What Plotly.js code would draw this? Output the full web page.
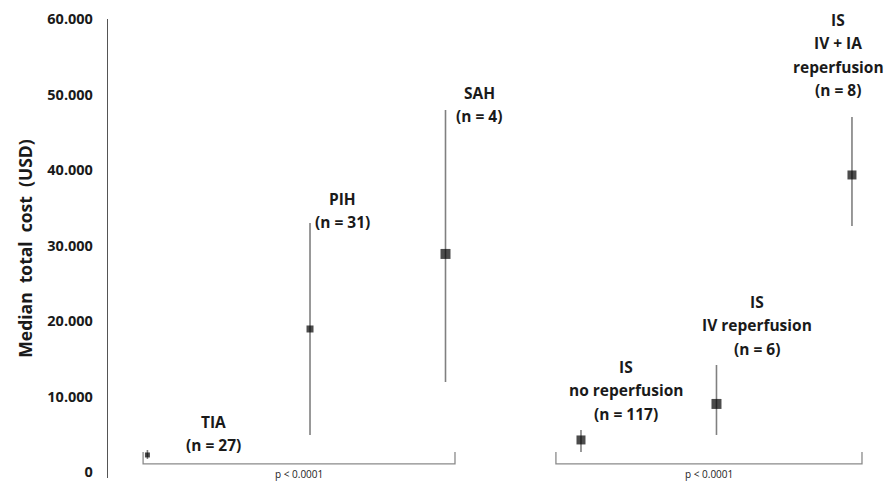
<!DOCTYPE html>
<html>
<head>
<meta charset="utf-8">
<script src="https://cdn.plot.ly/plotly-3.0.1.min.js"></script>
<style>html,body{margin:0;padding:0;background:#fff;}#chart{width:885px;height:488px;}</style>
</head>
<body>
<div id="chart"></div>
<script>
// Data
const groups = ["TIA", "PIH", "SAH", "IS no reperfusion", "IS IV reperfusion", "IS IV + IA reperfusion"];
const xPos = [0.8, 2, 3, 4, 5, 6];
const medians = [2250, 18940, 28880, 4240, 9010, 39340];
const upper = [2910, 32980, 47950, 5560, 14170, 47030];
const lower = [1720, 4900, 11920, 2650, 4900, 32590];
const sampleN = [27, 31, 4, 117, 6, 8];
const labelLines = [
  ["TIA"],
  ["PIH"],
  ["SAH"],
  ["IS", "no reperfusion"],
  ["IS", "IV reperfusion"],
  ["IS", "IV + IA", "reperfusion"]
];
const yTicks = [0, 10000, 20000, 30000, 40000, 50000, 60000];
const pText = "p < 0.0001";

// Layout helpers (positions / styles)
const markerSizes = [5, 7, 10, 9, 10, 9];
const labelX = [1.29, 2.24, 3.25, 4.33, 5.30, 5.90];
const labelY = [6623, 36164, 50205, 13909, 22520, 59875];
const brackets = [[0.768, 3.07], [3.815, 6.074]];

const trace = {
  type: "scatter",
  mode: "markers",
  x: xPos,
  y: medians,
  marker: {symbol: "square", color: "#000", size: markerSizes, line: {width: 0}},
  error_y: {
    type: "data", symmetric: false,
    array: upper.map((u, i) => u - medians[i]),
    arrayminus: medians.map((m, i) => m - lower[i]),
    color: "#808080", thickness: 1.6, width: 0
  },
  hoverinfo: "skip",
  showlegend: false
};

const annotations = [];
const lineH = 23.5;
labelLines.forEach((lines, i) => {
  const all = lines.concat(["(n = " + sampleN[i] + ")"]);
  all.forEach((t, j) => {
    annotations.push({
      x: labelX[i], y: labelY[i], xref: "x", yref: "y",
      text: t, showarrow: false, xanchor: "center", yanchor: "middle",
      yshift: -j * lineH,
      font: {family: "Open Sans, sans-serif", size: 15.5, color: "#1a1a1a", weight: "bold"}
    });
  });
});

const shapes = [];
brackets.forEach(b => {
  shapes.push({type: "path", xref: "x", yref: "y",
    path: `M ${b[0]},2650 L ${b[0]},1060 L ${b[1]},1060 L ${b[1]},2650`,
    line: {color: "#8a8a8a", width: 1.3}});
  annotations.push({
    x: (b[0] + b[1]) / 2, y: -280, xref: "x", yref: "y", text: pText,
    showarrow: false, xanchor: "center", yanchor: "middle",
    font: {family: "Open Sans, sans-serif", size: 10, color: "#222"}
  });
});

const layout = {
  width: 885, height: 488,
  margin: {l: 108, r: 10, t: 19, b: 10},
  paper_bgcolor: "#fff", plot_bgcolor: "#fff",
  separators: ",.",
  xaxis: {range: [0.509, 6.17], showgrid: false, zeroline: false, showline: false, showticklabels: false, ticks: ""},
  yaxis: {
    range: [-800, 60000], showgrid: false, zeroline: false,
    showline: true, linecolor: "#555", linewidth: 1.2,
    tickvals: yTicks, tickformat: ",d", ticks: "",
    ticklabelstandoff: 11,
    tickfont: {family: "Open Sans, sans-serif", size: 14.5, color: "#1a1a1a", weight: "bold"},
    title: {text: "Median  total  cost  (USD)", standoff: 10,
      font: {family: "Open Sans, sans-serif", size: 17.5, color: "#1a1a1a", weight: "bold"}}
  },
  shapes: shapes,
  annotations: annotations
};

Plotly.newPlot("chart", [trace], layout, {staticPlot: true, displayModeBar: false});
</script>
</body>
</html>
